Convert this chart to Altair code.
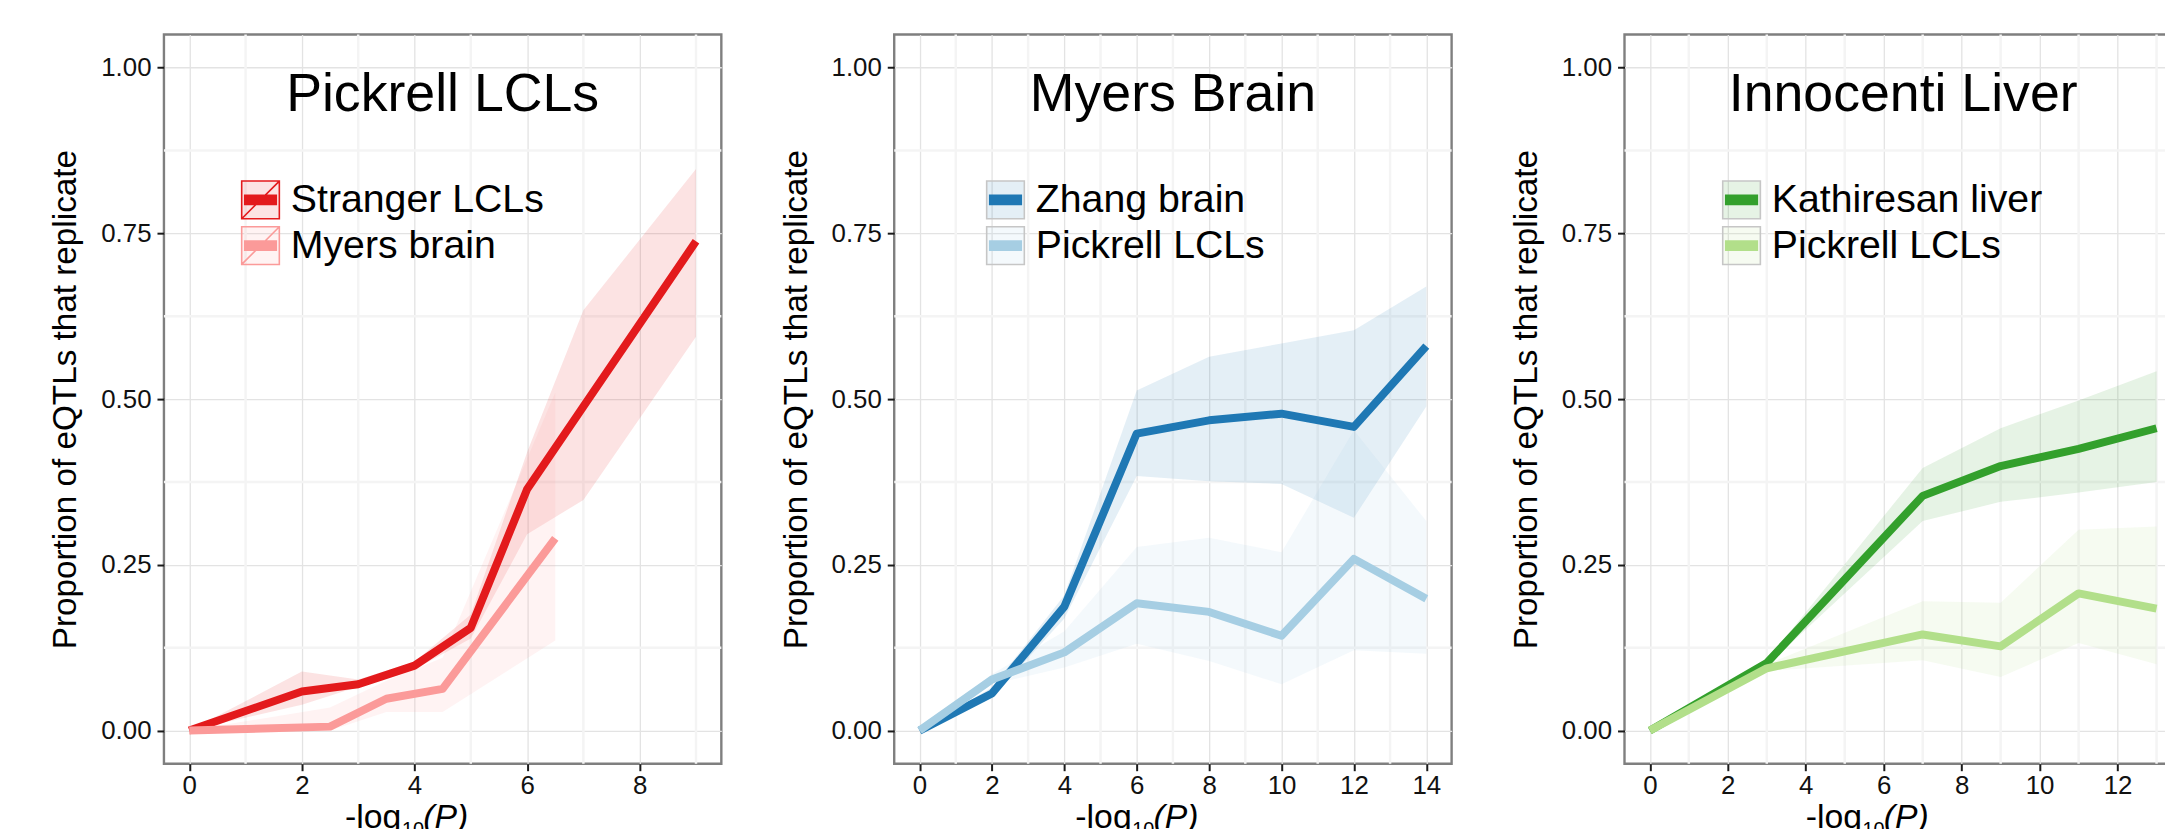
import altair as alt
import pandas as pd

FONT = "Liberation Sans"

PANEL_TITLES = ["Pickrell LCLs", "Myers Brain", "Innocenti Liver"]
X_TITLE_PARTS = ["-log", "10", "(P)"]
Y_TITLE = "Proportion of eQTLs that replicate"
Y_TICKS = [0, 0.25, 0.5, 0.75, 1.0]
Y_MINOR = [0.125, 0.375, 0.625, 0.875]

# ---- Panel 1: Pickrell LCLs ----
P1_SERIES = ["Stranger LCLs", "Myers brain"]
P1_COLORS = ["#E31A1C", "#FB9A99"]
P1_S1_X = [0, 2, 3, 4, 5, 6, 7, 9]
P1_S1_Y = [0.0, 0.059, 0.070, 0.098, 0.155, 0.364, 0.489, 0.738]
P1_S1_LO = [0.0, 0.039, 0.066, 0.092, 0.139, 0.296, 0.348, 0.594]
P1_S1_HI = [0.0, 0.089, 0.077, 0.104, 0.175, 0.420, 0.634, 0.847]
P1_S2_X = [0, 2.5, 3.5, 4.5, 6.5]
P1_S2_Y = [0.0, 0.006, 0.048, 0.063, 0.290]
P1_S2_LO = [0.0, 0.0, 0.028, 0.028, 0.136]
P1_S2_HI = [0.0, 0.035, 0.075, 0.110, 0.510]
P1_X_TICKS = [0, 2, 4, 6, 8]
P1_X_MINOR = [1, 3, 5, 7, 9]

# ---- Panel 2: Myers Brain ----
P2_SERIES = ["Zhang brain", "Pickrell LCLs"]
P2_COLORS = ["#1F78B4", "#A6CEE3"]
P2_S1_X = [0, 2, 4, 6, 8, 10, 12, 14]
P2_S1_Y = [0.0, 0.056, 0.187, 0.448, 0.468, 0.478, 0.458, 0.580]
P2_S1_LO = [0.0, 0.050, 0.169, 0.384, 0.376, 0.372, 0.321, 0.489]
P2_S1_HI = [0.0, 0.065, 0.204, 0.513, 0.564, 0.584, 0.604, 0.670]
P2_S2_X = [0, 2, 4, 6, 8, 10, 12, 14]
P2_S2_Y = [0.0, 0.077, 0.118, 0.192, 0.179, 0.143, 0.259, 0.199]
P2_S2_LO = [0.0, 0.070, 0.095, 0.131, 0.105, 0.070, 0.121, 0.116]
P2_S2_HI = [0.0, 0.085, 0.150, 0.277, 0.291, 0.269, 0.453, 0.316]
P2_X_TICKS = [0, 2, 4, 6, 8, 10, 12, 14]
P2_X_MINOR = [1, 3, 5, 7, 9, 11, 13]

# ---- Panel 3: Innocenti Liver ----
P3_SERIES = ["Kathiresan liver", "Pickrell LCLs"]
P3_COLORS = ["#33A02C", "#B2DF8A"]
P3_S1_X = [0, 3, 7, 9, 11, 13]
P3_S1_Y = [0.0, 0.102, 0.354, 0.399, 0.425, 0.456]
P3_S1_LO = [0.0, 0.098, 0.316, 0.345, 0.359, 0.375]
P3_S1_HI = [0.0, 0.106, 0.396, 0.456, 0.498, 0.542]
P3_S2_X = [0, 3, 7, 9, 11, 13]
P3_S2_Y = [0.0, 0.094, 0.145, 0.127, 0.207, 0.184]
P3_S2_LO = [0.0, 0.090, 0.106, 0.081, 0.132, 0.100]
P3_S2_HI = [0.0, 0.100, 0.195, 0.193, 0.303, 0.308]
P3_X_TICKS = [0, 2, 4, 6, 8, 10, 12]
P3_X_MINOR = [1, 3, 5, 7, 9, 11, 13]

W, H = 561, 734
RIBBON_ALPHA = 0.12
MAJOR = "#e3e3e3"
MINOR = "#f4f4f4"
ZW = "\u200b"  # keeps the ribbon legend separate from the line legend

BAR = "".join(f"M-0.88,{v}H0.88" for v in ("-0.24", "-0.16", "-0.08", "0", "0.08", "0.16", "0.24"))
SYM_PLAIN = "M-1,-1L-1,-1M1,1L1,1" + BAR
SYM_BOXED = "M-1,-1H1V1H-1ZM-1,1L1,-1" + BAR


def rgba(hex_color, a):
    h = hex_color.lstrip("#")
    r, g, b = int(h[0:2], 16), int(h[2:4], 16), int(h[4:6], 16)
    return f"rgba({r},{g},{b},{a})"


def text_piece(txt, x, y, size, align, style="normal"):
    return alt.Chart(pd.DataFrame({"t": [txt]})).mark_text(
        font=FONT, fontSize=size, align=align, baseline="top", color="black", fontStyle=style
    ).encode(x=alt.value(x), y=alt.value(y), text="t:N")


def panel(title, series, colors, s1, s2, ticks, minor, leg_x, leg_y, boxed):
    rows = []
    for name, (xs, ys, los, his) in zip(series, (s1, s2)):
        for x, y, lo, hi in zip(xs, ys, los, his):
            rows.append({"series": name, "band": name + ZW, "x": x, "y": y, "lo": lo, "hi": hi})
    df = pd.DataFrame(rows)
    xmax = max(max(s1[0]), max(s2[0]))
    pad = 0.05 * xmax
    xscale = alt.Scale(domain=[-pad, xmax + pad], nice=False, zero=False)
    yscale = alt.Scale(domain=[-0.05, 1.05], nice=False, zero=False)
    xaxis = alt.Axis(values=ticks, format="d", title=None)
    yaxis = alt.Axis(values=Y_TICKS, format=".2f", title=Y_TITLE)

    common_leg = dict(orient="none", legendX=leg_x, legendY=leg_y, title=None, padding=0,
                      symbolSize=1436, symbolStrokeWidth=1.6, rowPadding=0,
                      labelFont=FONT, labelFontSize=39.5, labelOffset=10.5, labelLimit=0,
                      labelColor="black")
    fill_leg = alt.Legend(symbolType="square",
                          symbolStrokeColor="transparent" if boxed else "#c6c6c6",
                          labelOpacity=0, zindex=1, **common_leg)
    stroke_leg = alt.Legend(symbolType=SYM_BOXED if boxed else SYM_PLAIN,
                            symbolFillColor="transparent", zindex=2, **common_leg)

    minor_x = alt.Chart(pd.DataFrame({"v": minor})).mark_rule(
        color=MINOR, strokeWidth=2.5).encode(x=alt.X("v:Q", scale=xscale, axis=xaxis))
    minor_y = alt.Chart(pd.DataFrame({"v": Y_MINOR})).mark_rule(
        color=MINOR, strokeWidth=2.5).encode(y=alt.Y("v:Q", scale=yscale, axis=yaxis))
    base = alt.Chart(df)
    area = base.mark_area().encode(
        x=alt.X("x:Q", scale=xscale, axis=xaxis),
        y=alt.Y("lo:Q", scale=yscale, axis=yaxis),
        y2="hi:Q",
        fill=alt.Fill("band:N", scale=alt.Scale(domain=[s + ZW for s in series],
                                                range=[rgba(c, RIBBON_ALPHA) for c in colors]),
                      legend=fill_leg),
    )
    line = base.mark_line(strokeWidth=8, strokeJoin="round").encode(
        x=alt.X("x:Q", scale=xscale, axis=xaxis),
        y=alt.Y("y:Q", scale=yscale, axis=yaxis),
        stroke=alt.Stroke("series:N", scale=alt.Scale(domain=series, range=colors),
                          legend=stroke_leg),
    )
    label = alt.Chart(pd.DataFrame({"t": [title]})).mark_text(
        font=FONT, fontSize=54, align="center", baseline="alphabetic", color="black"
    ).encode(x=alt.value(W / 2), y=alt.value(77), text="t:N")
    xt1 = text_piece(X_TITLE_PARTS[0], 239, H + 38, 34, "right")
    xt2 = text_piece(X_TITLE_PARTS[1], 239.5, H + 57, 20, "left")
    xt3 = text_piece(X_TITLE_PARTS[2], 261, H + 38, 34, "left", "italic")
    return alt.layer(minor_x, minor_y, area, line, label, xt1, xt2, xt3).properties(width=W, height=H)


p1 = panel(PANEL_TITLES[0], P1_SERIES, P1_COLORS,
           (P1_S1_X, P1_S1_Y, P1_S1_LO, P1_S1_HI), (P1_S2_X, P1_S2_Y, P1_S2_LO, P1_S2_HI),
           P1_X_TICKS, P1_X_MINOR, 77.2, 146.5, True)
p2 = panel(PANEL_TITLES[1], P2_SERIES, P2_COLORS,
           (P2_S1_X, P2_S1_Y, P2_S1_LO, P2_S1_HI), (P2_S2_X, P2_S2_Y, P2_S2_LO, P2_S2_HI),
           P2_X_TICKS, P2_X_MINOR, 92, 146.5, False)
p3 = panel(PANEL_TITLES[2], P3_SERIES, P3_COLORS,
           (P3_S1_X, P3_S1_Y, P3_S1_LO, P3_S1_HI), (P3_S2_X, P3_S2_Y, P3_S2_LO, P3_S2_HI),
           P3_X_TICKS, P3_X_MINOR, 97.8, 146.5, False)

chart = (
    alt.hconcat(p1, p2, p3, spacing=54)
    .resolve_scale(x="independent", y="independent", fill="independent", stroke="independent")
    .resolve_legend(fill="independent", stroke="independent")
    .properties(padding={"left": 48, "top": 29, "right": -20, "bottom": -15}, background="white")
    .configure_view(stroke="#7f7f7f", strokeWidth=2.4)
    .configure_axis(domain=False, tickColor="#1a1a1a", tickSize=7, tickWidth=2,
                    labelFont=FONT, labelFontSize=26, labelColor="#111111",
                    grid=True, gridColor=MAJOR, gridWidth=1.3,
                    titleFont=FONT, titleFontSize=33.5, titleFontWeight="normal", titleColor="black")
    .configure_axisX(labelPadding=2)
    .configure_axisY(labelPadding=6, titlePadding=18)
)

chart.save("out.html", embed_options={"renderer": "svg", "actions": False})
